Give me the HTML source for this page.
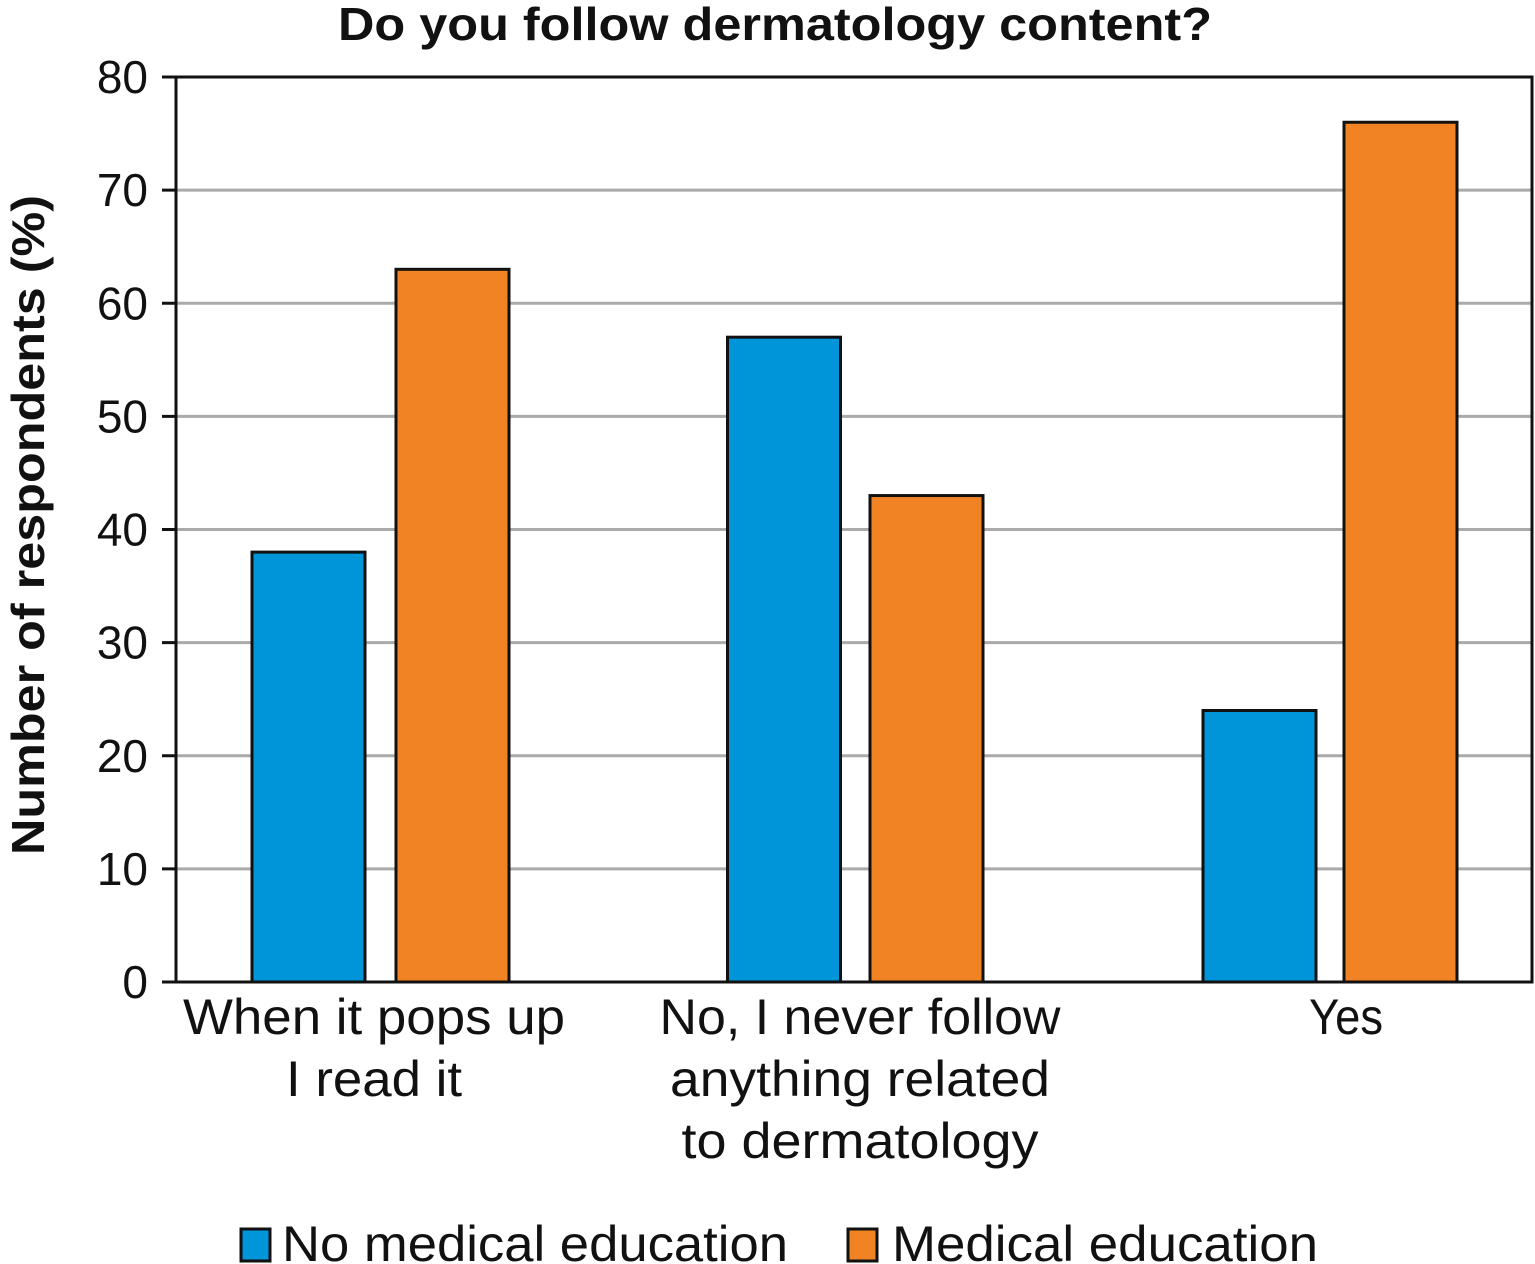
<!DOCTYPE html>
<html><head><meta charset="utf-8"><style>
html,body{margin:0;padding:0;background:#fff;}
svg{display:block;font-family:"Liberation Sans",sans-serif;}
</style></head><body>
<svg id="chart" width="1535" height="1264" viewBox="0 0 1535 1264">
<text x="775" y="40" text-anchor="middle" font-size="46" font-weight="bold" fill="#111" textLength="874" lengthAdjust="spacingAndGlyphs">Do you follow dermatology content?</text>
<text transform="translate(44,525) rotate(-90)" text-anchor="middle" font-size="46" font-weight="bold" fill="#111" textLength="660" lengthAdjust="spacingAndGlyphs">Number of respondents (%)</text>
<g id="grid"></g><g id="bars"></g><g id="axes"></g><g id="xlabels"></g>
<g>
<g>
<rect x="241" y="1229" width="29" height="32" fill="#0095d9" stroke="#111" stroke-width="3"/>
<text x="282" y="1261" font-size="50" fill="#111" textLength="506" lengthAdjust="spacingAndGlyphs">No medical education</text></g>
<g>
<rect x="848" y="1229" width="29" height="32" fill="#f28325" stroke="#111" stroke-width="3"/>
<text x="892" y="1261" font-size="50" fill="#111" textLength="426" lengthAdjust="spacingAndGlyphs">Medical education</text></g>
</g>
</svg>
<script>
const categories=[["When it pops up","I read it"],["No, I never follow","anything related","to dermatology"],["Yes"]];
const noMedical=[38,57,24];
const medical=[63,43,76];
const yTicks=[0,10,20,30,40,50,60,70,80];
const labelWidths=[[382,176],[401,380,357],[74]];
const NS="http://www.w3.org/2000/svg";
const L=176,R=1532,T=77,B=982;
function y(v){return B-(v/80)*(B-T);}
function cx(i){return 380+i*475.5;}
function mk(tag,attrs,parent){const e=document.createElementNS(NS,tag);for(const k in attrs)e.setAttribute(k,attrs[k]);parent.appendChild(e);return e;}
const grid=document.getElementById('grid'),bars=document.getElementById('bars'),axes=document.getElementById('axes'),xl=document.getElementById('xlabels');
yTicks.forEach(t=>{
 if(t>0&&t<80){const g=mk('line',{x1:L,x2:R,y1:y(t),y2:y(t),stroke:'#aaa','stroke-width':3},grid);
 
 }
 const tk=mk('line',{x1:L-14,x2:L,y1:y(t),y2:y(t),stroke:'#111','stroke-width':3},axes);
 
 
 const tx=mk('text',{x:L-28,y:y(t)+16,'text-anchor':'end','font-size':46,fill:'#111'},axes);
 tx.textContent=t;
 
 
});
const bw=113;
categories.forEach((c,i)=>{
 const b1=mk('rect',{x:cx(i)-128,y:y(noMedical[i]),width:bw,height:B-y(noMedical[i]),fill:'#0095d9',stroke:'#111','stroke-width':3},bars);
 
 
 const b2=mk('rect',{x:cx(i)+16-i*1.5,y:y(medical[i]),width:bw,height:B-y(medical[i]),fill:'#f28325',stroke:'#111','stroke-width':3},bars);
 
 
 c.forEach((line,j)=>{
  const t=mk('text',{x:cx(i)-6+i*10.5,y:1034+j*62,'text-anchor':'middle','font-size':50,fill:'#111',textLength:labelWidths[i][j],lengthAdjust:'spacingAndGlyphs'},xl);
  t.textContent=line;
  
  
 });
});
const frame=mk('rect',{x:L,y:T,width:R-L,height:B-T,fill:'none',stroke:'#111','stroke-width':3},axes);


</script>
</body></html>
